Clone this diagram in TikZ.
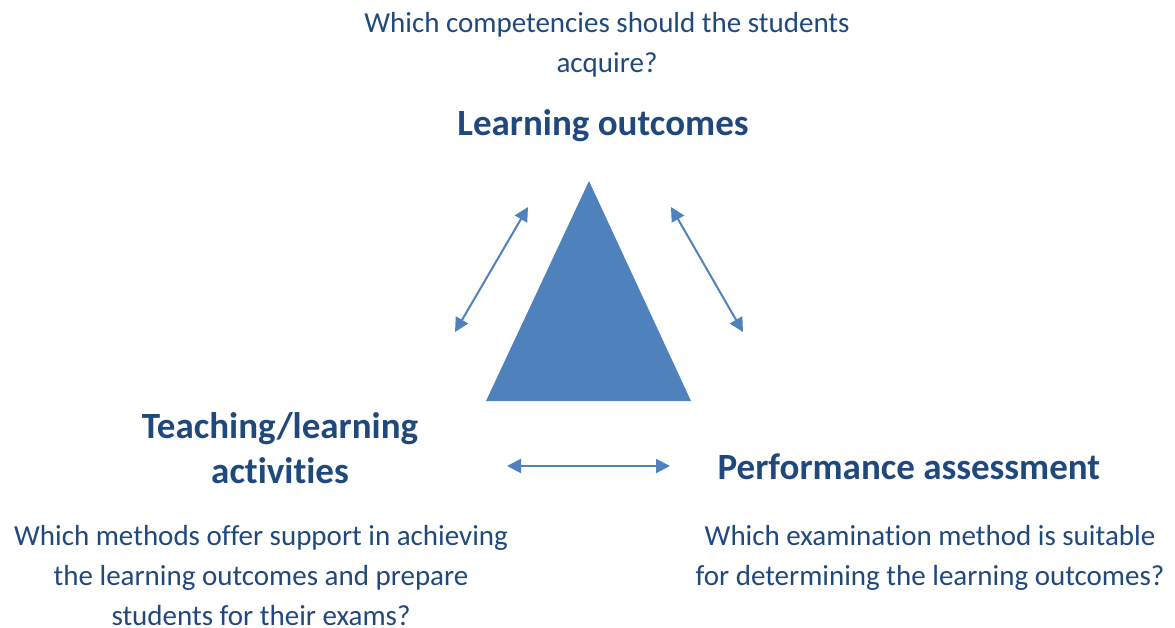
\documentclass[tikz,border=0pt]{standalone}
\usepackage{fontspec}
\setmainfont{Carlito}[Ligatures=NoCommon]
\usetikzlibrary{arrows.meta}
\definecolor{txtblue}{HTML}{1F497D}
\definecolor{triblue}{HTML}{4F81BD}
\begin{document}
\begin{tikzpicture}[x=1pt,y=-1pt,
  question/.style={text=txtblue,align=center,inner sep=0pt,font=\fontsize{29}{40}\selectfont},
  heading/.style={text=txtblue,align=center,inner sep=0pt,font=\bfseries\fontsize{37}{45}\selectfont},
  link/.style={draw=triblue,line width=2pt,{Triangle[length=14pt,width=14pt]}-{Triangle[length=14pt,width=14pt]}}]
  \useasboundingbox (0,0) rectangle (1175,627);
  % central triangle
  \fill[triblue] (589,181) coordinate (apex) -- (691,401) coordinate (br) -- (486,401) coordinate (bl) -- cycle;
  % headings and questions
  \node[question] (q1) at (607,45) {Which competencies should the students\\acquire?};
  \node[heading] (h1) at (603,126) {Learning outcomes};
  \node[heading] (h2) at (280,448) {Teaching/learning\\activities};
  \node[heading] (h3) at (909,467) {Performance assessment};
  \node[question] (q2) at (261,576) {Which methods offer support in achieving\\the learning outcomes and prepare\\students for their exams?};
  \node[question] (q3) at (930,558) {Which examination method is suitable\\for determining the learning outcomes?};
  % double-headed links between the three elements
  \coordinate (la) at (528,207); \coordinate (lb) at (455,332);
  \coordinate (ra) at (671,207); \coordinate (rb) at (743,332);
  \coordinate (ha) at (507,466); \coordinate (hb) at (670,466);
  \draw[link] (la) -- (lb);
  \draw[link] (ra) -- (rb);
  \draw[link] (ha) -- (hb);
\end{tikzpicture}
\end{document}
